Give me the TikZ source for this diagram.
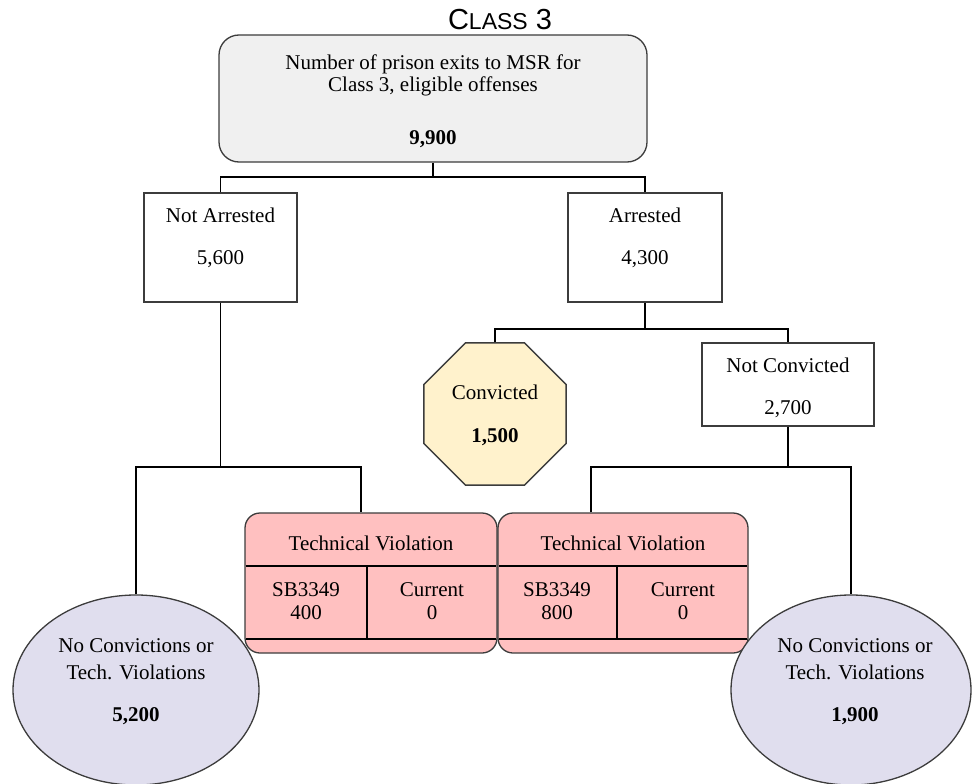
\documentclass[tikz,border=0pt]{standalone}
\usepackage{fontspec}
\setmainfont{Liberation Serif}
\newfontfamily\titlefont{Liberation Sans}
\usetikzlibrary{shapes.geometric}
\definecolor{topfill}{RGB}{240,240,240}
\definecolor{convfill}{RGB}{255,242,204}
\definecolor{tvfill}{RGB}{255,192,192}
\definecolor{ellfill}{RGB}{224,222,238}
\definecolor{edgegray}{RGB}{60,60,60}
\tikzset{
  shapebox/.style={draw=edgegray, line width=1.3pt, inner sep=0pt},
  plainbox/.style={shapebox, rectangle, fill=white},
  tvbox/.style={shapebox, rectangle, rounded corners=15pt, fill=tvfill, minimum height=140pt},
  ellbox/.style={shapebox, ellipse, fill=ellfill, minimum width=246pt, minimum height=190pt},
  txt/.style={inner sep=0pt, anchor=base, font=\fontsize{21}{24}\selectfont},
  conn/.style={draw=black, line width=1.1pt},
  cellline/.style={draw=black, line width=1.6pt}
}
\begin{document}
\begin{tikzpicture}[x=1pt,y=1pt]
\useasboundingbox (0,0) rectangle (972,-784);

% title
\node[inner sep=0pt, anchor=base] (title) at (500,-30)
  {\titlefont\fontsize{29}{30}\selectfont C{\fontsize{23}{24}\selectfont LASS} 3};

% top box
\node[shapebox, rectangle, rounded corners=20pt, fill=topfill,
      minimum width=428pt, minimum height=127pt] (top) at (433,-98.5) {};
\node[txt] (t1) at (433,-70) {Number of prison exits to MSR for};
\node[txt] (t2) at (433,-92) {Class 3, eligible offenses};
\node[txt] (t3) at (433,-144) {\bfseries 9,900};

% second level
\node[plainbox, minimum width=153pt, minimum height=109pt] (na) at (220.5,-247.5) {};
\node[txt] (na1) at (220.5,-222) {Not Arrested};
\node[txt] (na2) at (220.5,-264) {5,600};

\node[plainbox, minimum width=154pt, minimum height=109pt] (ar) at (645,-247.5) {};
\node[txt] (ar1) at (645,-222) {Arrested};
\node[txt] (ar2) at (645,-264) {4,300};

% third level
\node[shapebox, regular polygon, regular polygon sides=8, minimum size=154pt,
      fill=convfill] (conv) at (495,-414) {};
\node[txt] (cv1) at (495,-399) {Convicted};
\node[txt] (cv2) at (495,-442) {\bfseries 1,500};

\node[plainbox, minimum width=172pt, minimum height=83pt] (nc) at (788,-384.5) {};
\node[txt] (nc1) at (788,-372) {Not Convicted};
\node[txt] (nc2) at (788,-414) {2,700};

% technical violation boxes
\node[tvbox, minimum width=252pt] (tv1) at (371,-583) {};
\draw[cellline] (245.6,-566) -- (496.4,-566);
\draw[cellline] (245.6,-639) -- (496.4,-639);
\draw[cellline] (367,-566) -- (367,-639);
\node[txt] (tv1t) at (371,-550) {Technical Violation};
\node[txt] (tv1a) at (306,-596) {SB3349};
\node[txt] (tv1b) at (306,-619) {400};
\node[txt] (tv1c) at (432,-596) {Current};
\node[txt] (tv1d) at (432,-619) {0};

\node[tvbox, minimum width=250pt] (tv2) at (623,-583) {};
\draw[cellline] (498.6,-566) -- (747.4,-566);
\draw[cellline] (498.6,-639) -- (747.4,-639);
\draw[cellline] (617,-566) -- (617,-639);
\node[txt] (tv2t) at (623,-550) {Technical Violation};
\node[txt] (tv2a) at (557,-596) {SB3349};
\node[txt] (tv2b) at (557,-619) {800};
\node[txt] (tv2c) at (683,-596) {Current};
\node[txt] (tv2d) at (683,-619) {0};

% ellipses
\node[ellbox] (le) at (136,-690) {};
\node[txt] (le1) at (136,-652) {No Convictions or};
\node[txt] (le2) at (136,-679) {Tech. Violations};
\node[txt] (le3) at (136,-721) {\bfseries 5,200};

\node[ellbox, minimum width=240pt] (re) at (851,-690) {};
\node[txt] (re1) at (855,-652) {No Convictions or};
\node[txt] (re2) at (855,-679) {Tech. Violations};
\node[txt] (re3) at (855,-721) {\bfseries 1,900};

% junction coordinates
\coordinate (tj) at (433,-177);
\coordinate (aj) at (645,-329);
\coordinate (lR) at (361,-467);
\coordinate (rL) at (591,-467);

% connectors
\draw[conn] (top.south) -- (tj);
\draw[conn] (na.north) -- (na.north |- tj) -- (ar.north |- tj) -- (ar.north);
\draw[conn] (ar.south) -- (aj);
\draw[conn] (conv.north) -- (conv.north |- aj) -- (nc.north |- aj) -- (nc.north);
\draw[conn] (na.south) -- (na.south |- lR);
\draw[conn] (le.north) -- (le.north |- lR) -- (lR) -- (lR |- tv1.north);
\draw[conn] (nc.south) -- (nc.south |- rL);
\draw[conn] (rL |- tv2.north) -- (rL) -- (rL -| re.north) -- (re.north);
\end{tikzpicture}
\end{document}
